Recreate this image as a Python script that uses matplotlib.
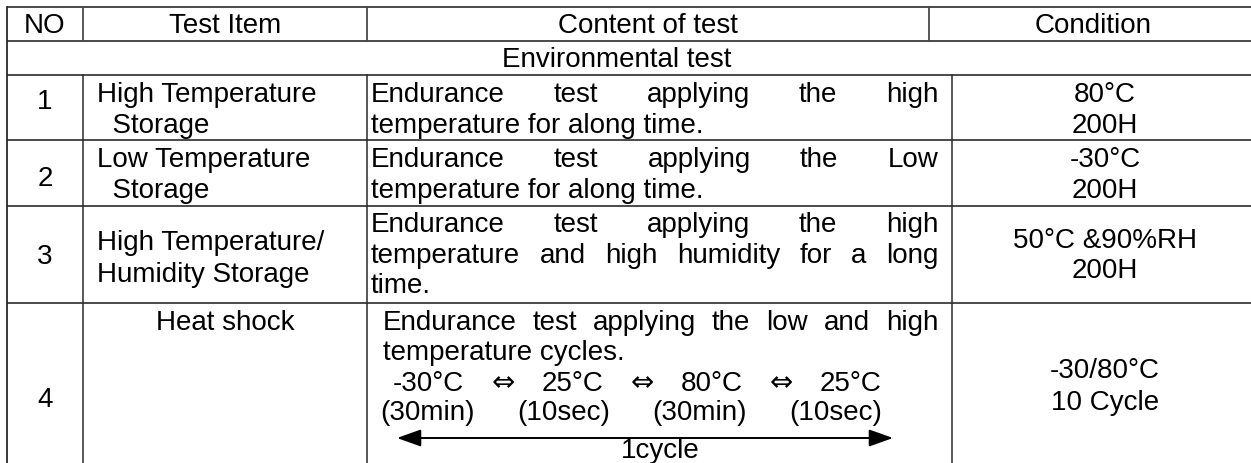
import matplotlib
matplotlib.use("Agg")
import matplotlib.pyplot as plt
from matplotlib.patches import FancyArrowPatch

# ---------------- data ----------------
headers = ["NO", "Test Item", "Content of test", "Condition"]
section_title = "Environmental test"
numbers = ["1", "2", "3", "4"]
test_items = [
    ["High Temperature", "  Storage"],
    ["Low Temperature", "  Storage"],
    ["High Temperature/", "Humidity Storage"],
    ["Heat shock"],
]
contents = [
    ["Endurance test applying the high", "temperature for along time."],
    ["Endurance test applying the Low", "temperature for along time."],
    ["Endurance test applying the high",
     "temperature and high humidity for a long", "time."],
    ["Endurance test applying the low and high", "temperature cycles."],
]
cycle_steps = ["-30°C", "⇔", "25°C", "⇔", "80°C", "⇔", "25°C"]
cycle_times = ["(30min)", "(10sec)", "(30min)", "(10sec)"]
cycle_label = "1cycle"
conditions = [
    ["80°C", "200H"],
    ["-30°C", "200H"],
    ["50°C &90%RH", "200H"],
    ["-30/80°C", "10 Cycle"],
]

# ---------------- layout (pixels) ----------------
W, H = 1251, 463
row_lines = [7, 41, 75, 140, 206, 303]
x_left, x_no, x_item, x_head_div, x_body_div, x_right = 7, 83, 367, 929, 952, 1258
FS = 20
FONT = ["Liberation Sans", "DejaVu Sans"]

fig = plt.figure(figsize=(W / 100, H / 100), dpi=100)
ax = fig.add_axes([0, 0, 1, 1])
ax.set_xlim(0, W)
ax.set_ylim(H, 0)
ax.axis("off")

hcol = "#4a4a4a"
vcol = "#2a2a2a"
for y in row_lines:
    ax.plot([x_left, W], [y, y], color=hcol, lw=1.4, solid_capstyle="butt")
ax.plot([x_left, x_left], [row_lines[0], H], color=vcol, lw=1.3)
ax.plot([x_right, x_right], [row_lines[0], H], color=vcol, lw=1.3)
for x in (x_no, x_item):
    ax.plot([x, x], [row_lines[0], row_lines[1]], color=hcol, lw=1.3)
    ax.plot([x, x], [row_lines[2], H], color=vcol, lw=1.1)
ax.plot([x_head_div, x_head_div], [row_lines[0], row_lines[1]], color=hcol, lw=1.3)
ax.plot([x_body_div, x_body_div], [row_lines[2], H], color=vcol, lw=1.1)

tk = dict(fontsize=FS, family=FONT, color="black", va="baseline")

# header
hx = [(x_left + x_no) / 2, (x_no + x_item) / 2, (x_item + x_head_div) / 2, (x_head_div + x_right) / 2]
for x, h in zip(hx, headers):
    ax.text(x, 33, h, ha="center", **tk)
ax.text(617, 67, section_title, ha="center", **tk)

fig.canvas.draw()
renderer = fig.canvas.get_renderer()


def justify(words, x0, x1, y):
    texts = []
    for w in words:
        kw = dict(tk)
        if w == "⇔":
            kw["family"] = ["DejaVu Sans"]
        texts.append(ax.text(0, y, w, ha="left", **kw))
    widths = [t.get_window_extent(renderer).width for t in texts]
    gap = (x1 - x0 - sum(widths)) / max(len(words) - 1, 1)
    x = x0
    for t, w in zip(texts, widths):
        t.set_x(x)
        x += w + gap


num_base = [109, 186, 264, 407]
item_base = [[102, 133], [167, 198], [250, 282], [330]]
item_x = [97, 97, 97, None]
content_base = [[102, 133], [167, 198], [232, 263, 293], [330, 360]]
content_x = [371, 371, 371, 383]
cond_base = [[102, 133], [167, 198], [248, 278], [378, 410]]
cond_x = (x_body_div + x_right) / 2
right_edge = 938

for i in range(4):
    ax.text((x_left + x_no) / 2, num_base[i], numbers[i], ha="center", **tk)
    for line, yb in zip(test_items[i], item_base[i]):
        if item_x[i] is None:
            ax.text((x_no + x_item) / 2, yb, line, ha="center", **tk)
        else:
            ax.text(item_x[i], yb, line, ha="left", **tk)
    lines = contents[i]
    for j, (line, yb) in enumerate(zip(lines, content_base[i])):
        if j < len(lines) - 1:
            justify(line.split(), content_x[i], right_edge, yb)
        else:
            ax.text(content_x[i], yb, line, ha="left", **tk)
    for line, yb in zip(conditions[i], cond_base[i]):
        ax.text(cond_x, yb, line, ha="center", **tk)

# heat shock cycle lines
justify(cycle_steps, 393, 882, 391)
justify(cycle_times, 380, 882, 420)
arrow = FancyArrowPatch((397, 438), (893, 438), arrowstyle="<|-|>,head_length=1.4,head_width=0.5",
                        mutation_scale=10.5, color="black", lw=1.4, shrinkA=0, shrinkB=0)
ax.add_patch(arrow)
ax.text(660, 458, cycle_label, ha="center", **tk)

fig.savefig("out.png", dpi=100)
